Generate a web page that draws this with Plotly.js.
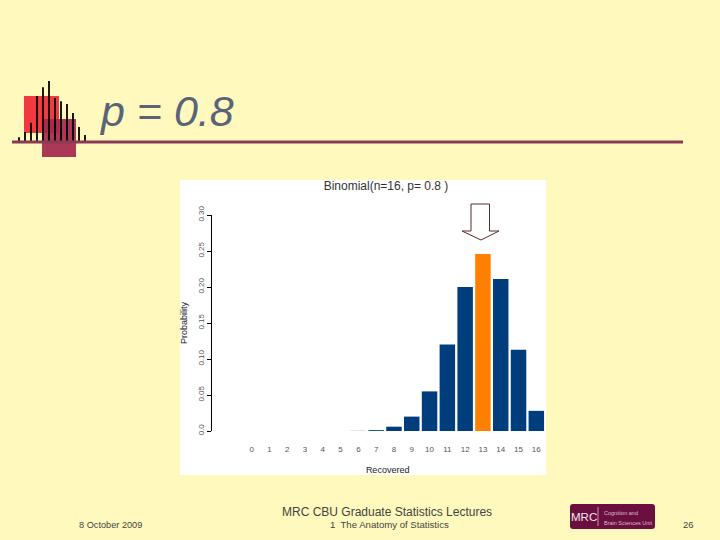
<!DOCTYPE html>
<html>
<head>
<meta charset="utf-8">
<script src="https://cdn.plot.ly/plotly-3.0.1.min.js"></script>
<style>html,body{margin:0;padding:0;background:#FFF9BD}</style>
</head>
<body>
<div id="chart" style="width:720px;height:540px"></div>
<script>
const successes = [0,1,2,3,4,5,6,7,8,9,10,11,12,13,14,15,16];
const probabilities = [0,0,0,0,0,0,0.0002,0.0012,0.006,0.02,0.055,0.12,0.2,0.246,0.211,0.113,0.028];
const highlighted = 13;
const yTicks = [0,0.05,0.10,0.15,0.20,0.25,0.30];
const yTickLabels = ['0.0','0.05','0.10','0.15','0.20','0.25','0.30'];
const emblemPositions = [1,2,3,4,5,6,7,8,9,10,11,12];
const emblemHeights = [14,30,58,138,164,183,132,122,114,87,45,21];

const W = 720, H = 540;
const px = x => x / W, py = y => 1 - y / H;
const TEXT = 'Liberation Sans, Arial, sans-serif';
const rect = (x0,y0,x1,y1,fill,opacity) => ({type:'rect',xref:'paper',yref:'paper',layer:'below',
  x0:px(x0),x1:px(x1),y0:py(y1),y1:py(y0),fillcolor:fill,opacity:opacity===undefined?1:opacity,line:{width:0}});
const note = (text,x,y,size,color,extra) => Object.assign({text,xref:'paper',yref:'paper',x:px(x),y:py(y),
  xanchor:'center',yanchor:'middle',showarrow:false,font:{family:TEXT,size,color}},extra||{});
const arrow = [[471,204],[489.5,204],[489.5,231],[499,231],[481,240],[462,231],[471,231]]
  .map((p,i)=>(i?'L':'M')+px(p[0])+','+py(p[1])).join(' ')+' Z';
const logoPath = (()=>{const x0=570,x1=655,y0=504,y1=529,r=3;
  const P=(x,y)=>px(x)+','+py(y);
  return `M${P(x0+r,y0)} L${P(x1-r,y0)} Q${P(x1,y0)} ${P(x1,y0+r)} L${P(x1,y1-r)} Q${P(x1,y1)} ${P(x1-r,y1)} L${P(x0+r,y1)} Q${P(x0,y1)} ${P(x0,y1-r)} L${P(x0,y0+r)} Q${P(x0,y0)} ${P(x0+r,y0)} Z`;})();

const traces = [
  {type:'bar',x:successes,y:probabilities,width:0.87,
   marker:{color:successes.map(s=>s===highlighted?'#FF8000':'#003D7C'),line:{width:0}},
   hoverinfo:'x+y'},
  {type:'bar',x:emblemPositions,y:emblemHeights,width:0.3,xaxis:'x2',yaxis:'y2',
   marker:{color:'#000000',line:{width:0}},hoverinfo:'skip'}
];

const layout = {
  width:W,height:H,autosize:false,showlegend:false,
  margin:{l:0,r:0,t:0,b:0,pad:0},
  paper_bgcolor:'#FFF9BD',plot_bgcolor:'rgba(0,0,0,0)',
  title:{text:'Binomial(n=16, p= 0.8 )',x:px(386),xanchor:'center',y:py(186),yanchor:'middle',
         font:{family:TEXT,size:12,color:'#333333'}},
  xaxis:{domain:[px(212.3),px(563)],range:[-2.21,17.5],showgrid:false,zeroline:false,showline:false,
         tickmode:'array',tickvals:successes,ticktext:successes.map(String),ticks:'',
         ticklabelstandoff:12,tickfont:{family:TEXT,size:8,color:'#555555'},
         title:{text:'Recovered',standoff:13,font:{family:TEXT,size:9,color:'#222222'}}},
  yaxis:{domain:[py(431),py(215)],range:[0,0.30],showgrid:false,zeroline:false,showline:true,
         linecolor:'#000000',linewidth:1,ticks:'outside',ticklen:4,tickwidth:1,tickcolor:'#000000',
         tickmode:'array',tickvals:yTicks,ticktext:yTickLabels,tickangle:-90,
         tickfont:{family:TEXT,size:8,color:'#555555'},
         title:{text:'Probability',standoff:7,font:{family:TEXT,size:9,color:'#222222'}}},
  xaxis2:{domain:[px(13),px(91)],range:[0,13],visible:false,anchor:'y2'},
  yaxis2:{domain:[py(142),py(70)],range:[0,216],visible:false,anchor:'x2'},
  shapes:[
    rect(180,180,546,475,'#FFFFFF'),
    rect(24,96,59,133,'#F03A40'),
    rect(42,119,76,157,'#A5294F',0.93),
    {type:'line',xref:'paper',yref:'paper',layer:'above',x0:px(12),x1:px(683),y0:py(142),y1:py(142),
     line:{color:'#8B3A55',width:3}},
    {type:'path',xref:'paper',yref:'paper',layer:'above',path:arrow,fillcolor:'#FFFFFF',line:{color:'#5A2B2B',width:1}},
    {type:'path',xref:'paper',yref:'paper',layer:'above',path:logoPath,fillcolor:'#6B0F40',line:{width:0}},
    {type:'line',xref:'paper',yref:'paper',layer:'above',x0:px(598),x1:px(598),y0:py(507),y1:py(526),
     line:{color:'#E8D8E0',width:0.7}}
  ],
  annotations:[
    note('<i>p = 0.8</i>',166,111,43,'#5A6478'),
    note('8 October 2009',110,524.5,9.2,'#444444'),
    note('MRC CBU Graduate Statistics Lectures',387,511.5,12,'#444444'),
    note('1  The Anatomy of Statistics',389,524.5,9.6,'#444444'),
    note('26',688.5,524.5,9.5,'#444444'),
    note('MRC',584,517,11.5,'#F3E6EC'),
    note('Cognition and',602,513,5.5,'#D9BFCC',{xanchor:'left'}),
    note('Brain Sciences Unit',602,523,5.5,'#D9BFCC',{xanchor:'left'})
  ]
};
Plotly.newPlot('chart',traces,layout,{displayModeBar:false,staticPlot:true});
</script>
</body>
</html>
